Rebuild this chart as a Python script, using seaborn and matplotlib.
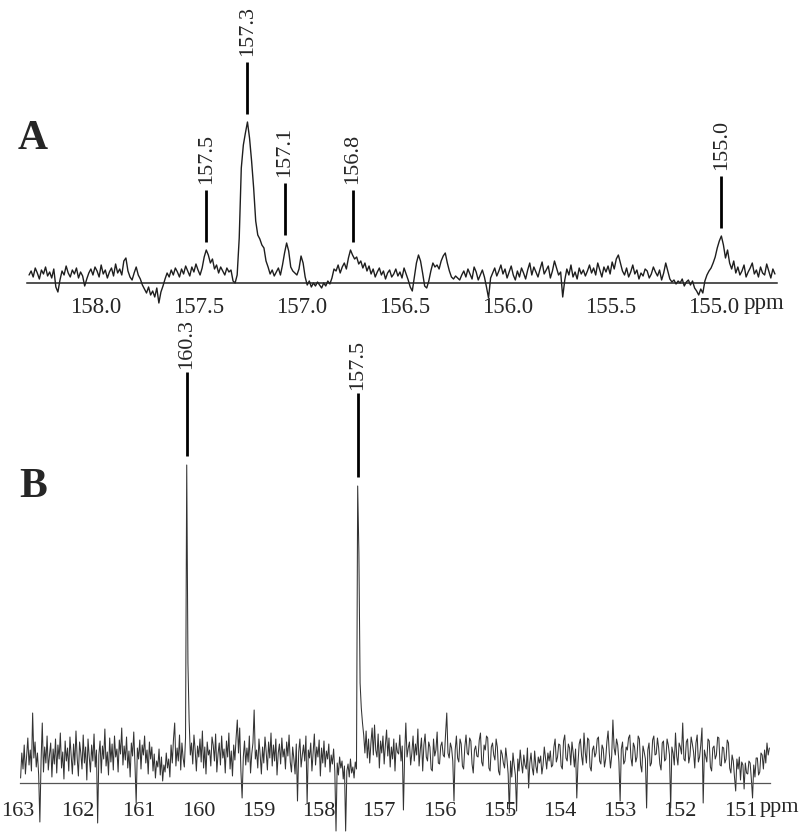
import numpy as np
import pandas as pd
import matplotlib
matplotlib.use("Agg")
import matplotlib.pyplot as plt
import seaborn as sns
from matplotlib.transforms import ScaledTranslation
from matplotlib.ticker import MultipleLocator, FixedLocator

# ---------------- data ----------------
# Panel A: intensity (arbitrary units) sampled every 0.01 ppm from 158.36 ppm
a_start_ppm = 158.36
a_step_ppm = 0.01
a_intensity = [
    8, 12, 6, 15, 10, 4, 13, 9, 16, 7,
    11, 5, 14, -4, -9, 3, 12, 8, 17, 10,
    6, 13, 9, 15, 5, 11, 7, -3, 4, 10,
    14, 8, 16, 12, 6, 18, 9, 13, 5, 11,
    15, 7, 19, 10, 14, 8, 22, 25, 12, 6,
    3, 10, 16, 8, 4, -2, -6, -10, -4, -12,
    -8, -14, -5, -20, -9, -3, 4, 10, 6, 13,
    8, 15, 11, 6, 14, 9, 17, 12, 7, 16,
    11, 19, 13, 8, 15, 26, 33, 28, 20, 24,
    14, 18, 10, 16, 12, 8, 15, 11, 13, 2,
    0, 8, 45, 115, 138, 150, 161, 145, 122, 95,
    62, 48, 44, 38, 35, 22, 16, 9, 13, 7,
    11, 15, 8, 18, 30, 40, 32, 16, 12, 10,
    8, 14, 27, 20, 6, -2, 2, -4, 0, -3,
    1, -2, -5, 0, -3, 2, -1, 5, 14, 12,
    18, 10, 16, 20, 14, 25, 33, 28, 24, 26,
    19, 22, 15, 20, 12, 17, 9, 14, 6, 11,
    15, 8, 12, 4, 10, 13, 6, 9, 14, 7,
    11, 5, 15, 9, 3, -4, -8, 6, 20, 28,
    22, 10, -3, -5, 2, 12, 20, 16, 18, 14,
    22, 27, 30, 20, 12, 6, 4, 7, 5, 3,
    8, 12, 6, 14, 9, 4, 16, 11, 3, 8,
    13, 6, -4, -15, 5, 10, 15, 7, 12, 18,
    9, 14, 5, 11, 17, 8, 3, 12, 6, 15,
    10, 4, 13, 20, 8, 16, 11, 6, 14, 21,
    9, 13, 17, 5, 12, 22, 15, 8, 11, -14,
    3, 14, 8, 18, 6, 11, 4, 15, 9, 13,
    7, 12, 18, 10, 15, 8, 20, 13, 6, 16,
    11, 17, 9, 21, 14, 24, 28, 20, 12, 8,
    15, 6, 11, 18, 9, 13, 4, 10, 7, 14,
    12, 5, 9, 16, 11, 7, 13, 3, 10, 20,
    12, 4, 1, 3, -1, 2, 0, 4, -3, 1,
    3, -2, 2, -5, -8, -12, -6, -10, 2, 8,
    12, 15, 20, 26, 35, 42, 47, 38, 25, 33,
    20, 14, 22, 10, 16, 8, 12, 18, 6, 11,
    15, 20, 9, 13, 6, 16, 10, 8, 19, 12,
    5, 14, 9,
]
a_peak_ppm = [157.5, 157.3, 157.12, 156.79, 155.0]
a_peak_labels = ["157.5", "157.3", "157.1", "156.8", "155.0"]
a_tick_values = [158.0, 157.5, 157.0, 156.5, 156.0, 155.5, 155.0]
a_tick_labels = ["158.0", "157.5", "157.0", "156.5", "156.0", "155.5", "155.0"]

# Panel B: intensity sampled every 0.02 ppm from 163.04 ppm
b_start_ppm = 163.04
b_step_ppm = 0.02
b_intensity = [
    5, 30, 14, 38, 9, 27, 45, 18, 33, 12, 70, 25, 41, 16, 30, 8, -39, 22, 60, 11,
    36, 20, 47, 13, 28, 40, 6, 34, 19, 44, 10, 38, 24, 50, 15, 31, 4, 42, 22, 35,
    12, 46, 27, 9, 39, 18, 52, 25, 7, 41, 30, 14, 48, 20, 36, 3, 44, 26, 11, 38,
    22, 49, 16, 33, -40, 28, 42, 10, 37, 24, 54, 17, 31, 8, 45, 21, 39, 13, 47, 26,
    34, 11, 43, 29, 55, 18, 37, 23, 46, 15, 32, 6, 40, 27, 51, 19, -20, 35, 24, 43,
    14, 38, 28, 47, 20, 33, 9, 41, 24, 36, 12, 29, 5, 22, 16, 34, 8, 26, 2, 18,
    11, 30, 15, 24, 6, 38, 20, 44, 60, 17, 35, 22, 48, 13, 40, 25, 16, 45, 318, 120,
    62, 28, 40, 19, 48, 33, 12, 37, 26, 44, 21, 52, 15, 36, 9, 41, 28, 33, 17, 46,
    38, 22, 49, 11, 29, 40, 18, 47, 25, 34, 10, 42, 26, 50, 14, 32, 7, 38, 23, 45,
    63, 30, 55, 12, -15, 26, 42, 18, 35, 21, 47, 10, 29, 40, 73, 24, 33, 15, 44, 28,
    9, 36, 20, 46, 31, 13, 41, 25, 50, 17, 38, 22, 44, 8, 30, 39, 19, 45, 26, 34,
    14, 41, 27, 48, 21, 11, 36, 24, 9, 39, -18, 31, 44, 16, 28, 38, 22, 47, -20, 33,
    25, 40, 12, 30, 49, 18, 36, 26, 43, 7, 35, 20, 42, 16, 32, 24, 39, 11, 28, 19,
    34, 12, -48, 20, 8, 26, 15, 22, 4, 17, -48, 12, 19, 6, 24, 10, 16, 5, 21, 14,
    297, 230, 100, 75, 60, 48, 30, 52, 25, 44, 20, 40, 55, 28, 58, 33, 26, 49, 15, 42,
    30, 47, 19, 38, 53, 27, 45, 16, 36, 24, 44, 12, 40, 31, 29, 48, 22, 37, -27, 29,
    60, 26, 35, 41, 18, 30, 47, 22, 39, 28, 54, 17, 33, 45, 12, 38, 49, 26, 22, 41,
    36, 14, 12, 44, 27, 33, 51, 20, 19, 37, 41, 28, 26, 49, 70, 30, 25, 40, 35, 22,
    -18, 33, 47, 25, 21, 44, 39, 17, 14, 36, 48, 30, 28, 45, 42, 19, 10, 33, 37, 27,
    26, 43, 50, 21, 17, 38, 33, 47, 45, 15, 12, 36, 40, 28, 23, 44, 36, 12, 8, 33,
    29, 20, 15, 35, 24, 9, -30, 22, 6, 30, 18, 8, -28, 24, 12, 33, 20, 10, 28, 18,
    14, 35, -5, 20, 30, 15, 8, 32, 17, 10, 26, 20, 27, 9, 18, 36, 25, 14, 30, 22,
    32, 16, 18, 36, 44, 21, 26, 39, 38, 17, 14, 42, 48, 25, 22, 39, 35, 18, 41, 30,
    16, 34, -15, 20, 39, 44, 27, 18, 50, 31, 20, 45, 43, 16, 12, 33, 37, 26, 30, 44,
    46, 22, 19, 38, 34, 16, 24, 41, 52, 30, 15, 27, 63, 35, 28, 44, 38, 21, -18, 34,
    41, 19, 22, 36, 33, 45, 48, 25, 17, 40, 36, 21, 26, 47, 44, 18, 11, 37, 31, 24,
    -25, 33, 40, 17, 20, 43, 47, 28, 29, 45, 35, 19, 13, 40, 42, 22, 24, 44, 38, 28,
    -25, 36, 30, 18, 50, 27, 18, 40, 36, 29, 60, 24, 22, 41, 44, 20, 27, 46, 39, 31,
    15, 40, 48, 21, 26, 38, 55, -20, 33, 27, 21, 44, 42, 16, 12, 35, 37, 24, 28, 46,
    45, 18, 17, 36, 35, 20, 24, 43, 40, 15, 10, 28, 22, 6, -8, 24, 14, 26, 3, 21,
    18, -6, 20, 10, 9, 22, 20, 4, -15, 18, 6, 25, 25, 8, 11, 30, 28, 14, 33, 20,
    40, 28, 35,
]
b_peak_ppm = [160.28, 157.44]
b_peak_labels = ["160.3", "157.5"]
b_tick_values = [163, 162, 161, 160, 159, 158, 157, 156, 155, 154, 153, 152, 151]
b_tick_labels = [str(v) for v in b_tick_values]

# ---------------- tables ----------------
df_a = pd.DataFrame({
    "ppm": np.round(a_start_ppm - a_step_ppm * np.arange(len(a_intensity)), 2),
    "intensity": a_intensity,
})
df_b = pd.DataFrame({
    "ppm": np.round(b_start_ppm - b_step_ppm * np.arange(len(b_intensity)), 2),
    "intensity": b_intensity,
})

# ---------------- style ----------------
sns.set_theme(style="white")
plt.rcParams["font.family"] = ["Liberation Serif", "DejaVu Serif"]

W, H = 800, 835
fig = plt.figure(figsize=(W / 100, H / 100), dpi=100)
fig.patch.set_facecolor("white")

def px_axes(left, top, width, height):
    return fig.add_axes([left / W, 1 - (top + height) / H, width / W, height / H])

# Panel A axes: baseline at y=283 px, ylim -30..170
axA = px_axes(27, 113, 750, 200)
# Panel B axes: baseline at y=783 px, ylim -52..330
axB = px_axes(20, 453, 750, 382)

sns.lineplot(data=df_a, x="ppm", y="intensity", ax=axA, estimator=None,
             color="#1e1e1e", linewidth=1.0)
sns.lineplot(data=df_b, x="ppm", y="intensity", ax=axB, estimator=None,
             color="#333333", linewidth=0.75)

axA.set_xlim(158.37, 154.73)
axA.set_ylim(-30, 170)
axB.set_xlim(163.05, 150.59)
axB.set_ylim(-52, 330)

shift_a = ScaledTranslation(-8 / 100, 0, fig.dpi_scale_trans)
shift_b = ScaledTranslation(-5 / 100, 0, fig.dpi_scale_trans)

for ax in (axA, axB):
    ax.set_facecolor("none")
    for s in ("top", "right", "left"):
        ax.spines[s].set_visible(False)
    ax.spines["bottom"].set_position(("data", 0))
    ax.set_yticks([])
    ax.set_xlabel("")
    ax.set_ylabel("")
    ax.grid(False)

# Panel A axis
axA.spines["bottom"].set_color("#222222")
axA.spines["bottom"].set_linewidth(1.1)
axA.xaxis.set_major_locator(FixedLocator(a_tick_values))
axA.set_xticklabels(a_tick_labels)
axA.xaxis.set_minor_locator(MultipleLocator(0.1))
axA.tick_params(axis="x", which="major", direction="out", length=6, width=1,
                color="#222222", pad=4, labelsize=16.5)
axA.tick_params(axis="x", which="minor", direction="out", length=3, width=1,
                color="#222222")
for lab in axA.get_xticklabels():
    lab.set_transform(lab.get_transform() + shift_a)

# Panel B axis
axB.spines["bottom"].set_color("#555555")
axB.spines["bottom"].set_linewidth(0.9)
axB.xaxis.set_major_locator(FixedLocator(b_tick_values))
axB.set_xticklabels(b_tick_labels)
axB.tick_params(axis="x", which="major", length=0, pad=14, labelsize=16)
for lab in axB.get_xticklabels():
    lab.set_transform(lab.get_transform() + shift_b)

# "ppm" unit texts
axA.annotate("ppm", xy=(155.0, 0), xycoords="data", xytext=(22, -10),
             textcoords="offset pixels", ha="left", va="top", fontsize=16.5,
             annotation_clip=False)
axB.annotate("ppm", xy=(151, 0), xycoords="data", xytext=(14, -15),
             textcoords="offset pixels", ha="left", va="top", fontsize=16,
             annotation_clip=False)

# Peak markers
def mark_peaks(ax, df, ppms, labels, gap, length, text_gap, window):
    for p, lab in zip(ppms, labels):
        near = df[(df["ppm"] - p).abs() <= window]
        h = near["intensity"].max()
        y0 = h + gap
        y1 = y0 + length
        ax.plot([p, p], [y0, y1], color="black", linewidth=2, clip_on=False,
                solid_capstyle="butt")
        ax.text(p, y1 + text_gap, lab, rotation=90, ha="center", va="bottom",
                fontsize=16, clip_on=False)

mark_peaks(axA, df_a, a_peak_ppm, a_peak_labels, gap=8, length=52, text_gap=6,
           window=0.015)
mark_peaks(axB, df_b, b_peak_ppm, b_peak_labels, gap=9, length=84, text_gap=3,
           window=0.02)

# Panel letters
fig.text(18 / W, 1 - 149 / H, "A", fontsize=30, fontweight="bold",
         ha="left", va="baseline")
fig.text(19 / W, 1 - 497 / H, "B", fontsize=30, fontweight="bold",
         ha="left", va="baseline")

fig.savefig("out.png", dpi=100, facecolor="white")
